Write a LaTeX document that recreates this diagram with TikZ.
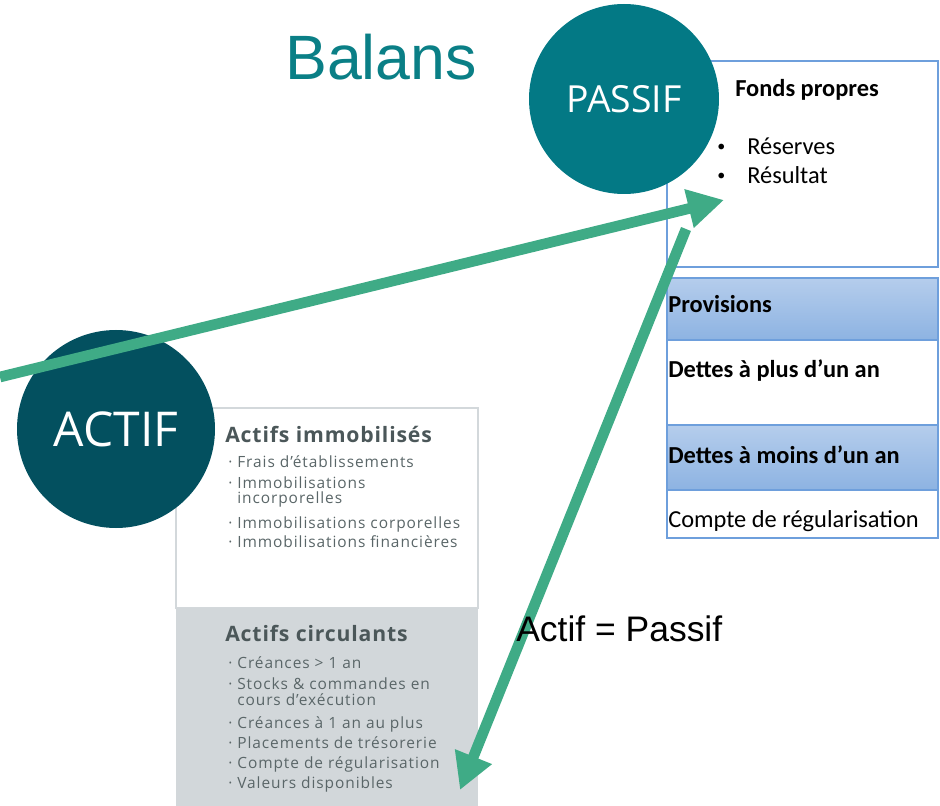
\documentclass[tikz,border=0pt]{standalone}
\usepackage{fontspec}
\setmainfont{Carlito}
\newfontfamily\arialfont{Liberation Sans}
\newfontfamily\circfont{Open Sans}
\newfontfamily\actfont[LetterSpace=6]{Open Sans}
\newfontfamily\acthead[LetterSpace=4]{Open Sans}
\usetikzlibrary{arrows.meta}

\definecolor{titleteal}{HTML}{0A7F86}
\definecolor{passteal}{HTML}{037985}
\definecolor{actteal}{HTML}{03505F}
\definecolor{arrowgreen}{HTML}{3FAB86}
\definecolor{tabblue}{HTML}{6E9FDC}
\definecolor{rowtop}{HTML}{B5CDEC}
\definecolor{rowbot}{HTML}{8DB3E2}
\definecolor{boxgrey}{HTML}{D2D7DA}
\definecolor{boxline}{HTML}{D3D8DB}
\definecolor{acttext}{HTML}{4B5759}
\definecolor{itemtext}{HTML}{5A6668}

\begin{document}
\begin{tikzpicture}
	 [x=0.75pt,y=-0.75pt,every node/.style={inner sep=0pt},
	  bal/.style={circle,text=white,font=\circfont\fontsize{28}{30}\selectfont},
	  tabrow/.style={draw=tabblue,line width=1pt},
	  darkrow/.style={tabrow,top color=rowtop,bottom color=rowbot},
	  rtxt/.style={anchor=base west,font=\fontsize{18.3}{20}\selectfont},
	  rbold/.style={anchor=base west,font=\bfseries\fontsize{18.3}{20}\selectfont},
	  lhead/.style={anchor=base west,text=acttext,font=\acthead\bfseries\fontsize{15.9}{17}\selectfont},
	  litem/.style={anchor=base west,text=itemtext,font=\actfont\fontsize{11.6}{12}\selectfont},
	  link/.style={draw=arrowgreen,line width=8pt,-{Triangle[length=27pt,width=28pt]}}]
	\useasboundingbox (0,0) rectangle (940,806);

	% actif side
	\draw[boxline,line width=2pt,fill=white] (176,408) rectangle (478,608);
	\fill[boxgrey] (176,608) rectangle (478,810);

	% passif side
	\draw[tabrow] (667,61) rectangle (938,267);
	\draw[darkrow] (667,278) rectangle (938,340);
	\draw[tabrow] (667,340) rectangle (938,425);
	\draw[darkrow] (667,425) rectangle (938,490);
	\draw[tabrow] (667,490) rectangle (938,538);

	\node[anchor=base west,text=titleteal,font=\arialfont\fontsize{47}{50}\selectfont] (title) at (285,80) {Balans};

	\node[bal,fill=passteal,minimum size=142.5pt] (passif) at (624,99) {PASSIF};
	\node[bal,fill=actteal,minimum size=148.5pt,font=\circfont\fontsize{36}{38}\selectfont] (actif) at (116,429) {ACTIF};

	\node[rbold] (fonds) at (735,97) {Fonds propres};
	\node[rtxt,font=\fontsize{12}{14}\selectfont] (dot1) at (717,152) {•};
	\node[rtxt] (reserves) at (747,155) {Réserves};
	\node[rtxt,font=\fontsize{12}{14}\selectfont] (dot2) at (717,181) {•};
	\node[rtxt] (resultat) at (747,184) {Résultat};
	\node[rbold] (prov) at (668,313) {Provisions};
	\node[rbold] (dplus) at (668,378) {Dettes à plus d’un an};
	\node[rbold] (dmoins) at (668,463) {Dettes à moins d’un an};
	\node[rtxt] (cregp) at (668,527) {Compte de régularisation};

	\node[lhead] (immo) at (225,442) {Actifs immobilisés};
	\foreach \x/\y/\t in {228/467/· Frais d’établissements,228/488/· Immobilisations,237/503/incorporelles,
	                     228/528/· Immobilisations corporelles,228/547/· Immobilisations financières}
	  \node[litem] (immo\y) at (\x,\y) {\t};

	\node[lhead] (circ) at (225,641) {Actifs circulants};
	\foreach \x/\y/\t in {228/668/· Créances > 1 an,228/689/· Stocks \& commandes en,237/705/cours d’exécution,
	                     228/728/· Créances à 1 an au plus,228/748/· Placements de trésorerie,
	                     228/768/· Compte de régularisation,228/788/· Valeurs disponibles}
	  \node[litem] (circ\y) at (\x,\y) {\t};

	\coordinate (src) at (0,377);
	\coordinate (tipP) at (724,200);
	\coordinate (ptop) at (686,229);
	\coordinate (tipA) at (460,790);

	\foreach \from/\to in {src/tipP,ptop/tipA}
    \draw[link] (\from) -- (\to);

	\node[anchor=base west,font=\arialfont\fontsize{26.6}{28}\selectfont] (eq) at (516,641) {Actif = Passif};

\end{tikzpicture}
\end{document}
